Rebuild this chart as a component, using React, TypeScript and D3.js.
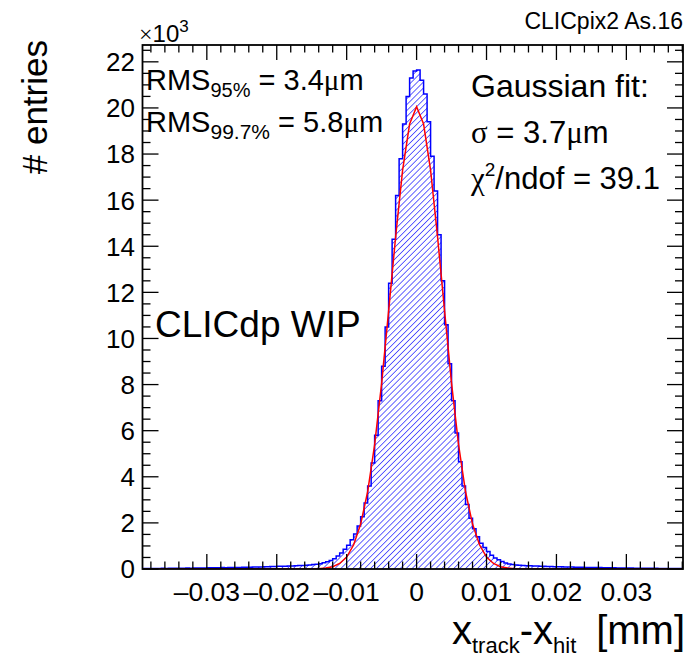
import React from "react";
import * as d3 from "d3";

// axis ranges (x in mm, y in thousands of entries)
const xDomain = [-0.0392, 0.0381];
const yDomain = [0, 22.73];

const xTickValues = [-0.03, -0.02, -0.01, 0, 0.01, 0.02, 0.03];
const xTickLabels = ["\u20130.03", "\u20130.02", "\u20130.01", "0", "0.01", "0.02", "0.03"];
const yTickValues = [0, 2, 4, 6, 8, 10, 12, 14, 16, 18, 20, 22];
const yTickLabels = ["0", "2", "4", "6", "8", "10", "12", "14", "16", "18", "20", "22"];

// histogram binning, in um
const binStartUm = -39;
const binWidthUm = 0.5;

// entries per bin (x10^3), from -39 um to +38 um
const entries = [
  0.02, 0.02, 0.02, 0.025, 0.02, 0.03, 0.025, 0.03, 0.03, 0.035,
  0.03, 0.035, 0.04, 0.035, 0.04, 0.045, 0.04, 0.045, 0.05, 0.05,
  0.055, 0.05, 0.06, 0.055, 0.06, 0.065, 0.07, 0.07, 0.075, 0.08,
  0.08, 0.085, 0.09, 0.09, 0.1, 0.1, 0.105, 0.11, 0.115, 0.12,
  0.12, 0.13, 0.135, 0.14, 0.15, 0.155, 0.165, 0.175, 0.19, 0.21,
  0.23, 0.27, 0.31, 0.37, 0.45, 0.56, 0.69, 0.86, 1.03, 1.27,
  1.52, 1.87, 2.27, 2.86, 3.6, 4.6, 5.8, 7.3, 8.8, 10.5,
  12.4, 14.3, 16.2, 17.8, 19.3, 20.5, 21.3, 21.6,
  // x > 0
  21.65, 21.2, 20.6, 19.4, 17.9, 16.4, 14.5, 12.5, 10.6, 8.9,
  7.3, 5.9, 4.65, 3.6, 2.8, 2.2, 1.75, 1.4, 1.12, 0.93,
  0.76, 0.6, 0.48, 0.4, 0.32, 0.26, 0.22, 0.19, 0.17, 0.16,
  0.15, 0.145, 0.14, 0.13, 0.13, 0.12, 0.12, 0.11, 0.11, 0.1,
  0.1, 0.095, 0.09, 0.09, 0.085, 0.08, 0.08, 0.075, 0.07, 0.07,
  0.065, 0.06, 0.06, 0.055, 0.055, 0.05, 0.05, 0.045, 0.045, 0.04,
  0.04, 0.04, 0.035, 0.035, 0.035, 0.03, 0.03, 0.03, 0.03, 0.025,
  0.025, 0.025, 0.02, 0.02, 0.02, 0.02,
];

// gaussian fit curve as drawn (um, x10^3)
const fitX = [-39, -16, -15, -14, -13, -12, -11, -10, -9, -8, -7, -6, -5, -4, -3, -2, -1, 0,
  1, 2, 3, 4, 5, 6, 7, 8, 9, 10, 11, 12, 13, 14, 15, 16, 38];
const fitY = [0, 0, 0.005, 0.015, 0.04, 0.1, 0.24, 0.52, 1.05, 1.95, 3.35, 5.4, 8.05, 11.2, 14.4, 17.3, 19.3, 20.05,
  19.3, 17.3, 14.4, 11.2, 8.05, 5.4, 3.35, 1.95, 1.05, 0.52, 0.24, 0.1, 0.04, 0.015, 0.005, 0, 0];

const sans = "'Liberation Sans', Arial, Helvetica, sans-serif";
const greek = "'Liberation Serif', 'DejaVu Serif', serif";

const frame = { left: 142.5, right: 683, top: 45, bottom: 569 };

const FrameTicks = ({ xScale, yScale }) => {
  const xMinor = d3.range(-19, 20).map((i) => i * 0.002).filter((v) => Math.abs(Math.round(v * 500) % 5) !== 0);
  const yMinor = d3.range(0, 46).map((i) => i * 0.5).filter((v) => v % 2 !== 0);
  const xMaj = 15, xMin = 7.5, yMaj = 16, yMin = 8;
  return (
    <g stroke="#000" strokeWidth={1.3}>
      {xTickValues.map((v) => (
        <g key={"xM" + v}>
          <line x1={xScale(v)} x2={xScale(v)} y1={frame.bottom} y2={frame.bottom - xMaj} />
          <line x1={xScale(v)} x2={xScale(v)} y1={frame.top} y2={frame.top + xMaj} />
        </g>
      ))}
      {xMinor.map((v) => (
        <g key={"xm" + v}>
          <line x1={xScale(v)} x2={xScale(v)} y1={frame.bottom} y2={frame.bottom - xMin} />
          <line x1={xScale(v)} x2={xScale(v)} y1={frame.top} y2={frame.top + xMin} />
        </g>
      ))}
      {yTickValues.map((v) => (
        <g key={"yM" + v}>
          <line x1={frame.left} x2={frame.left + yMaj} y1={yScale(v)} y2={yScale(v)} />
          <line x1={frame.right} x2={frame.right - yMaj} y1={yScale(v)} y2={yScale(v)} />
        </g>
      ))}
      {yMinor.map((v) => (
        <g key={"ym" + v}>
          <line x1={frame.left} x2={frame.left + yMin} y1={yScale(v)} y2={yScale(v)} />
          <line x1={frame.right} x2={frame.right - yMin} y1={yScale(v)} y2={yScale(v)} />
        </g>
      ))}
    </g>
  );
};

export default function App() {
  const width = 692;
  const height = 658;

  const xScale = d3.scaleLinear().domain(xDomain).range([frame.left, frame.right]);
  const yScale = d3.scaleLinear().domain(yDomain).range([frame.bottom, frame.top]);

  const edge = (i) => (binStartUm + i * binWidthUm) / 1000;
  const p = d3.path();
  p.moveTo(xScale(edge(0)), yScale(0));
  entries.forEach((v, i) => {
    p.lineTo(xScale(edge(i)), yScale(v));
    p.lineTo(xScale(edge(i + 1)), yScale(v));
  });
  p.lineTo(xScale(edge(entries.length)), yScale(0));
  const outline = p.toString();

  const fitLine = d3
    .line()
    .x((d) => xScale(d[0] / 1000))
    .y((d) => yScale(d[1]))(fitX.map((x, i) => [x, fitY[i]]));

  return (
    <svg width={width} height={height} style={{ position: "absolute", left: 0, top: 0 }} fontFamily={sans}>
      <defs>
        <pattern id="hatch" patternUnits="userSpaceOnUse" width={4.2} height={4.2} patternTransform="rotate(45)">
          <line x1={0} y1={0} x2={0} y2={4.2} stroke="#0000ff" strokeWidth={1.2} />
        </pattern>
        <clipPath id="frameClip">
          <rect x={frame.left} y={frame.top} width={frame.right - frame.left} height={frame.bottom - frame.top} />
        </clipPath>
      </defs>
      <rect width={width} height={height} fill="#fff" />

      <g clipPath="url(#frameClip)">
        <path d={outline + "Z"} fill="url(#hatch)" stroke="none" />
        <path d={outline} fill="none" stroke="#0000ff" strokeWidth={1.5} />
        <path d={fitLine} fill="none" stroke="#ff0000" strokeWidth={1.5} />
      </g>

      <rect x={frame.left} y={frame.top} width={frame.right - frame.left} height={frame.bottom - frame.top}
        fill="none" stroke="#000" strokeWidth={1.8} />
      <FrameTicks xScale={xScale} yScale={yScale} />

      {xTickValues.map((v, i) => (
        <text key={"xl" + v} x={xScale(v)} y={601} textAnchor="middle" fontSize={26.5}>{xTickLabels[i]}</text>
      ))}
      {yTickValues.map((v, i) => (
        <text key={"yl" + v} x={135} y={yScale(v)} dy="0.36em" textAnchor="end" fontSize={26}>{yTickLabels[i]}</text>
      ))}

      <text x={139} y={42} fontSize={24}>
        <tspan fontFamily={greek}>{"\u00d7"}</tspan>10<tspan fontSize={17} dy={-10}>3</tspan>
      </text>

      <text x={683} y={29} textAnchor="end" fontSize={23}>CLICpix2 As.16</text>

      <text transform="translate(47,40) rotate(-90)" textAnchor="end" fontSize={35}># entries</text>

      <text x={452} y={644} fontSize={40}>
        x<tspan fontSize={22} dy={9}>track</tspan><tspan dy={-9}>-x</tspan><tspan fontSize={22} dy={9}>hit</tspan>
      </text>
      <text x={685} y={644} textAnchor="end" fontSize={40}>[mm]</text>

      <text x={146} y={90} fontSize={29}>
        RMS<tspan fontSize={20} dy={7}>95%</tspan><tspan dy={-7}> = 3.4</tspan><tspan fontFamily={greek}>{"\u03bc"}</tspan>m
      </text>
      <text x={146} y={132} fontSize={29}>
        RMS<tspan fontSize={21} dy={7}>99.7%</tspan><tspan dy={-7}> = 5.8</tspan><tspan fontFamily={greek}>{"\u03bc"}</tspan>m
      </text>

      <text x={471} y={97} fontSize={32}>Gaussian fit:</text>
      <text x={471} y={143} fontSize={31}>
        <tspan fontFamily={greek}>{"\u03c3"}</tspan> = 3.7<tspan fontFamily={greek}>{"\u03bc"}</tspan>m
      </text>
      <text x={471} y={189} fontSize={31}>
        <tspan fontFamily={greek}>{"\u03c7"}</tspan><tspan fontSize={19} dy={-13}>2</tspan><tspan dy={13}>/ndof = 39.1</tspan>
      </text>

      <text x={155} y={337} fontSize={37}>CLICdp WIP</text>
    </svg>
  );
}
